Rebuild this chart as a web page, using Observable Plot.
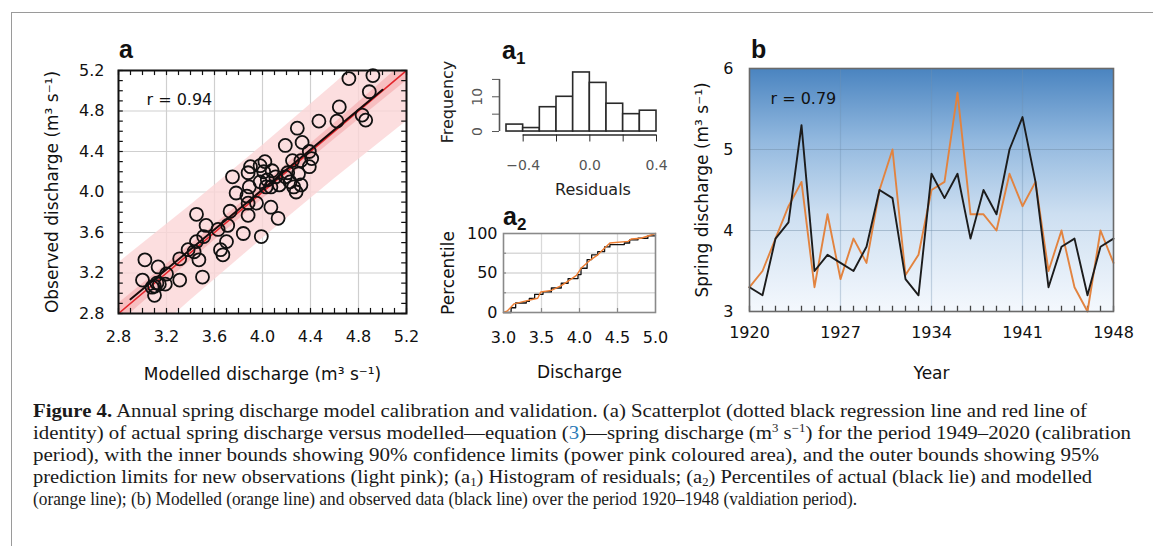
<!DOCTYPE html>
<html><head><meta charset="utf-8">
<script src="https://cdn.jsdelivr.net/npm/d3@7"></script>
<script src="https://cdn.jsdelivr.net/npm/@observablehq/plot@0.6"></script>
<style>
html,body{margin:0;padding:0;background:#fff;}
#fig{position:relative;width:1153px;height:546px;overflow:hidden;}
.panel{position:absolute;}
.panel svg{background:transparent !important;max-width:none !important;overflow:visible;}
#box{position:absolute;left:11px;top:12px;width:1200px;height:600px;border-left:1.5px solid #9a9a9a;border-top:1.5px solid #9a9a9a;}
#caption{position:absolute;left:33px;top:400px;font-family:"Liberation Serif";font-size:19.5px;color:#1a1a1a;}
#caption div{white-space:nowrap;line-height:22px;height:22px;transform-origin:0 50%;width:max-content;}
#caption sup{font-size:12px;vertical-align:7px;line-height:0;}
#caption sub{font-size:12px;vertical-align:-3px;line-height:0;}
#caption .ref{color:#2b7bb9;}
#letters{position:absolute;left:0;top:0;pointer-events:none;}
</style></head><body>
<div id="fig">
  <div id="box"></div>
  <div class="panel" id="pa" style="left:0;top:0;width:420px;height:390px"></div>
  <div class="panel" id="pa1" style="left:420px;top:30px;width:260px;height:175px"></div>
  <div class="panel" id="pa2" style="left:420px;top:205px;width:260px;height:185px"></div>
  <div class="panel" id="pb" style="left:680px;top:30px;width:473px;height:360px"></div>
  <svg id="letters" width="1153" height="546" font-family="Liberation Sans" font-weight="bold" fill="#111">
    <text x="119" y="58" font-size="25">a</text>
    <text x="502" y="59" font-size="25">a<tspan font-size="17" dy="5">1</tspan></text>
    <text x="503" y="225" font-size="25">a<tspan font-size="17" dy="5">2</tspan></text>
    <text x="751" y="58" font-size="25">b</text>
  </svg>
  <div id="caption">
    <div data-w="1054"><b>Figure 4.</b> Annual spring discharge model calibration and validation. (a) Scatterplot (dotted black regression line and red line of</div>
    <div data-w="1098">identity) of actual spring discharge versus modelled—equation (<span class="ref">3</span>)—spring discharge (m<sup>3</sup> s<sup>−1</sup>) for the period 1949–2020 (calibration</div>
    <div data-w="1066">period), with the inner bounds showing 90% confidence limits (power pink coloured area), and the outer bounds showing 95%</div>
    <div data-w="1059">prediction limits for new observations (light pink); (a<sub>1</sub>) Histogram of residuals; (a<sub>2</sub>) Percentiles of actual (black lie) and modelled</div>
    <div data-w="824">(orange line); (b) Modelled (orange line) and observed data (black line) over the period 1920–1948 (valdiation period).</div>
  </div>
</div>
<script>
// ---------- Panel a: scatter (modelled vs observed, calibration 1949–2020) ----------
const modelled = [3.02,3.00,3.13,3.20,3.10,3.10,3.14,3.19,3.08,3.31,
  3.31,3.38,3.50,3.47,3.43,3.45,3.51,3.53,3.45,3.65,
  3.67,3.70,3.63,3.71,3.73,3.84,3.78,3.87,3.88,3.88,
  3.95,3.99,3.75,3.88,3.90,3.98,4.02,4.01,3.98,4.04,
  4.08,4.11,4.07,4.07,4.13,4.14,4.19,4.19,4.23,4.25,
  4.26,4.28,4.32,4.30,4.29,4.33,4.32,4.39,4.39,4.41,
  4.47,4.62,4.64,4.72,4.83,4.86,4.89,4.92,4.21,3.89,
  4.03,3.12];
const observed = [3.33,3.13,3.26,3.19,3.07,2.98,3.09,3.09,3.06,3.13,
  3.34,3.43,3.16,3.33,3.41,3.51,3.56,3.67,3.78,3.43,
  3.38,3.51,3.63,3.67,3.81,3.59,3.99,3.96,3.77,3.89,
  3.89,3.56,4.15,4.19,4.25,4.26,4.30,4.20,4.10,4.12,
  4.21,4.15,4.05,3.85,3.74,4.07,4.15,4.46,4.10,4.31,
  4.05,4.00,4.07,4.18,4.63,4.49,4.31,4.25,4.40,4.33,
  4.70,4.70,4.84,5.12,4.76,4.71,4.99,5.15,4.19,4.05,
  4.05,3.10];
const aTicks = [2.8,3.2,3.6,4.0,4.4,4.8,5.2];
const aMinor = [2.8,2.9,3.0,3.1,3.2,3.3,3.4,3.5,3.6,3.7,3.8,3.9,4.0,4.1,4.2,4.3,4.4,4.5,4.6,4.7,4.8,4.9,5.0,5.1,5.2];
const bandX   = [2.8, 3.4, 4.0, 4.6, 5.2];
const outerLo = [2.30, 2.93, 3.54, 4.13, 4.70];
const outerHi = [3.30, 3.87, 4.46, 5.07, 5.70];
const innerLo = [2.70, 3.32, 3.93, 4.52, 5.10];
const innerHi = [2.90, 3.48, 4.07, 4.68, 5.30];
const identityX = [2.8, 5.2];
const regX = [2.9, 5.0];
const regY = [2.94, 5.01];

// ---------- Panel a1: histogram of residuals ----------
const histEdges  = [-0.5,-0.4,-0.3,-0.2,-0.1,0.0,0.1,0.2,0.3,0.4];
const histCounts = [2,1,7,10,17,14,8,5,6];

// ---------- Panel a2: percentiles ----------
const pObsX = [3.0,3.10,3.16,3.30,3.34,3.41,3.52,3.63,3.76,3.85,3.98,4.02,4.10,4.16,4.24,4.33,4.40,4.59,4.66,4.77,4.90,5.0];
const pObsP = [0,6,12,14,18,23,26,31,37,43,48,56,67,73,77,83,86,88,92,94,97,97];
const pModX = [3.0,3.05,3.14,3.27,3.45,3.49,3.63,3.76,3.87,3.96,4.02,4.15,4.24,4.40,4.64,4.68,4.81,4.97,5.0];
const pModP = [0,2,11,14,18,26,28,34,41,47,56,67,73,88,90,93,94,99,100];

// ---------- Panel b: validation 1920–1948 ----------
const years = [1920,1921,1922,1923,1924,1925,1926,1927,1928,1929,1930,1931,1932,1933,1934,
  1935,1936,1937,1938,1939,1940,1941,1942,1943,1944,1945,1946,1947,1948];
const obsB = [3.3,3.2,3.9,4.1,5.3,3.5,3.7,3.6,3.5,3.8,4.5,4.4,3.4,3.2,4.7,
  4.4,4.7,3.9,4.5,4.2,5.0,5.4,4.6,3.3,3.8,3.9,3.2,3.8,3.9];
const modB = [3.3,3.5,3.9,4.3,4.6,3.3,4.2,3.4,3.9,3.6,4.5,5.0,3.45,3.7,4.5,
  4.6,5.7,4.2,4.2,4.0,4.7,4.3,4.6,3.5,4.0,3.3,3.0,4.0,3.6];
const bTicksX = [1920,1927,1934,1941,1948];
const bTicksY = [3,4,5,6];

const FONT = "DejaVu Sans";
const f1 = d3.format(".1f");

// ===== Panel a =====
const scatter = modelled.map((x,i)=>({x, y: observed[i]}));
const band = bandX.map((x,i)=>({x, oLo: outerLo[i], oHi: outerHi[i], iLo: innerLo[i], iHi: innerHi[i]}));
const plotA = Plot.plot({
  width: 420, height: 390,
  marginLeft: 118, marginRight: 14, marginTop: 70, marginBottom: 77,
  style: {fontFamily: FONT, fontSize: "16px", color: "#111", background: "transparent"},
  x: {domain: [2.8, 5.2]},
  y: {domain: [2.8, 5.2]},
  marks: [
    Plot.gridX(aTicks, {stroke: "#cfcfcf", strokeOpacity: 1, strokeWidth: 1.2}),
    Plot.gridY(aTicks, {stroke: "#cfcfcf", strokeOpacity: 1, strokeWidth: 1.2}),
    Plot.areaY(band, {x: "x", y1: "oLo", y2: "oHi", fill: "#fbd6d7", fillOpacity: 0.8, clip: true}),
    Plot.areaY(band, {x: "x", y1: "iLo", y2: "iHi", fill: "#f5b3b6", fillOpacity: 0.75, clip: true}),
    Plot.line(identityX.map(v=>({v})), {x: "v", y: "v", stroke: "#e3262c", strokeWidth: 1.6, clip: true}),
    Plot.line(regX.map((x,i)=>({x, y: regY[i]})), {x: "x", y: "y", stroke: "#1a0a0a", strokeWidth: 2}),
    Plot.dot(scatter, {x: "x", y: "y", r: 6.5, stroke: "#111", strokeWidth: 1.8, fill: "none"}),
    Plot.ruleX(aMinor, {y1: 2.8, y2: 2.85, stroke: "#111", strokeWidth: 1.2}),
    Plot.ruleX(aMinor, {y1: 5.15, y2: 5.2, stroke: "#111", strokeWidth: 1.2}),
    Plot.ruleY(aMinor, {x1: 2.8, x2: 2.84, stroke: "#111", strokeWidth: 1.2}),
    Plot.ruleY(aMinor, {x1: 5.16, x2: 5.2, stroke: "#111", strokeWidth: 1.2}),
    Plot.frame({stroke: "#111", strokeWidth: 2}),
    Plot.axisX({ticks: aTicks, tickSize: 0, tickPadding: 17, tickFormat: f1, label: null, fontSize: 16}),
    Plot.axisY({ticks: aTicks, tickSize: 0, tickPadding: 14, tickFormat: f1, label: null, fontSize: 16}),
    Plot.text(["Modelled discharge (m³ s⁻¹)"], {frameAnchor: "bottom", dy: 61, lineAnchor: "middle", textAnchor: "middle", fontSize: 17}),
    Plot.text(["Observed discharge (m³ s⁻¹)"], {frameAnchor: "left", dx: -66, rotate: -90, textAnchor: "middle", lineAnchor: "middle", fontSize: 17}),
    Plot.text(["r = 0.94"], {frameAnchor: "top-left", dx: 28, dy: 29, textAnchor: "start", lineAnchor: "middle", fontSize: 16})
  ]
});
document.getElementById("pa").append(plotA);

// ===== Panel a1 =====
const hist = histCounts.map((n,i)=>({lo: histEdges[i], hi: histEdges[i+1], n}));
const resFmt = d => d === 0 ? "0.0" : (d < 0 ? "−" : "") + f1(Math.abs(d));
const plotA1 = Plot.plot({
  width: 260, height: 175,
  marginLeft: 79, marginRight: 24, marginTop: 38.5, marginBottom: 70.5,
  style: {fontFamily: FONT, fontSize: "14px", color: "#333", background: "transparent"},
  x: {domain: [-0.542, 0.4]},
  y: {domain: [-1, 18]},
  marks: [
    Plot.rectY(hist, {x1: "lo", x2: "hi", y: "n", fill: "white", stroke: "#2a2a2a", strokeWidth: 1.6}),
    Plot.ruleY([-1], {x1: -0.4, x2: 0.4, stroke: "#2a2a2a", strokeWidth: 1.6}),
    Plot.ruleX([-0.542], {y1: 0, y2: 15, stroke: "#555", strokeWidth: 1.6}),
    Plot.axisX({ticks: [-0.4,-0.2,0,0.2,0.4], tickSize: 7, tickPadding: 18, label: null, stroke: "#2a2a2a",
      tickFormat: d => [-0.4,0,0.4].includes(d) ? resFmt(d) : "", fontSize: 14, fill: "#555"}),
    Plot.axisY({ticks: [0,5,10,15], tickSize: 7, tickFormat: () => "", label: null, stroke: "#555"}),
    Plot.text([0, 10], {x: -0.542, y: d => d, text: d => String(d), rotate: -90, dx: -22, textAnchor: "middle", lineAnchor: "middle", fontSize: 14, fill: "#555"}),
    Plot.text(["Frequency"], {frameAnchor: "left", dx: -52, rotate: -90, textAnchor: "middle", lineAnchor: "middle", fontSize: 16, fill: "#222"}),
    Plot.text(["Residuals"], {frameAnchor: "bottom", dx: 15, dy: 54.5, lineAnchor: "middle", textAnchor: "middle", fontSize: 16, fill: "#222"})
  ]
});
document.getElementById("pa1").append(plotA1);

// ===== Panel a2 =====
const obsCurve = pObsX.map((x,i)=>({x, p: pObsP[i]}));
const modCurve = pModX.map((x,i)=>({x, p: pModP[i]}));
const plotA2 = Plot.plot({
  width: 260, height: 185,
  marginLeft: 83, marginRight: 25, marginTop: 28, marginBottom: 78,
  style: {fontFamily: FONT, fontSize: "16px", color: "#111", background: "transparent"},
  x: {domain: [3, 5]},
  y: {domain: [0, 100]},
  marks: [
    Plot.gridX([3.5, 4.0, 4.5], {stroke: "#d9d9d9", strokeOpacity: 1, strokeWidth: 1.3}),
    Plot.gridY([25, 50, 75], {stroke: "#d9d9d9", strokeOpacity: 1, strokeWidth: 1.3}),
    Plot.ruleX([3.5, 4.0, 4.5], {y1: 0, y2: 5, stroke: "#888", strokeWidth: 1.2}),
    Plot.ruleY([25, 50, 75], {x1: 3, x2: 3.04, stroke: "#888", strokeWidth: 1.2}),
    Plot.line(obsCurve, {x: "x", y: "p", stroke: "#111", strokeWidth: 1.3, curve: "step-after"}),
    Plot.line(modCurve, {x: "x", y: "p", stroke: "#ee7d31", strokeWidth: 1.4}),
    Plot.frame({stroke: "#8a8a8a", strokeWidth: 1.6}),
    Plot.axisX({ticks: [3.0,3.5,4.0,4.5,5.0], tickSize: 0, tickPadding: 19, tickFormat: f1, label: null, fontSize: 16}),
    Plot.axisY({ticks: [0, 50, 100], tickSize: 0, tickPadding: 6, tickFormat: d => String(d), label: null, fontSize: 16}),
    Plot.text(["Discharge"], {frameAnchor: "bottom", dy: 60, lineAnchor: "middle", textAnchor: "middle", fontSize: 17}),
    Plot.text(["Percentile"], {frameAnchor: "left", dx: -55, rotate: -90, textAnchor: "middle", lineAnchor: "middle", fontSize: 17})
  ]
});
document.getElementById("pa2").append(plotA2);

// ===== Panel b =====
const obsLine = years.map((yr,i)=>({yr, v: obsB[i]}));
const modLine = years.map((yr,i)=>({yr, v: modB[i]}));
const plotB = Plot.plot({
  width: 473, height: 360,
  marginLeft: 69, marginRight: 40, marginTop: 38, marginBottom: 79,
  style: {fontFamily: FONT, fontSize: "16px", color: "#111", background: "transparent"},
  x: {domain: [1920, 1948]},
  y: {domain: [3, 6]},
  marks: [
    Plot.frame({fill: "url(#bgGradB)"}),
    Plot.gridX([1927, 1934, 1941], {stroke: "#6f8fb0", strokeOpacity: 0.35, strokeWidth: 1.2}),
    Plot.gridY([4, 5], {stroke: "#6f8aa5", strokeOpacity: 0.45, strokeWidth: 1.2}),
    Plot.ruleX(years, {y1: 3, y2: 3.065, stroke: "#444", strokeWidth: 1.3}),
    Plot.line(modLine, {x: "yr", y: "v", stroke: "#e2833f", strokeWidth: 1.9}),
    Plot.line(obsLine, {x: "yr", y: "v", stroke: "#1c1c1c", strokeWidth: 1.9}),
    Plot.frame({stroke: "#6a6a6a", strokeWidth: 1.6}),
    Plot.axisX({ticks: bTicksX, tickSize: 0, tickPadding: 15, tickFormat: d => String(d), label: null, fontSize: 16}),
    Plot.axisY({ticks: bTicksY, tickSize: 0, tickPadding: 16, tickFormat: d => String(d), label: null, fontSize: 16}),
    Plot.text(["Year"], {frameAnchor: "bottom", dy: 62, lineAnchor: "middle", textAnchor: "middle", fontSize: 17}),
    Plot.text(["Spring discharge (m³ s⁻¹)"], {frameAnchor: "left", dx: -47, rotate: -90, textAnchor: "middle", lineAnchor: "middle", fontSize: 17}),
    Plot.text(["r = 0.79"], {frameAnchor: "top-left", dx: 21, dy: 30, textAnchor: "start", lineAnchor: "middle", fontSize: 16})
  ]
});
{
  const svg = d3.select(plotB.tagName.toLowerCase() === "svg" ? plotB : plotB.querySelector("svg"));
  const g = svg.insert("defs", ":first-child").append("linearGradient")
    .attr("id", "bgGradB").attr("x1", 0).attr("y1", 0).attr("x2", 0).attr("y2", 1);
  [["0%", "#4a84c0"], ["30%", "#93b9df"], ["60%", "#cddff1"], ["100%", "#f4f8fd"]]
    .forEach(([o, c]) => g.append("stop").attr("offset", o).attr("stop-color", c));
}
document.getElementById("pb").append(plotB);

// ===== caption line fitting =====
document.querySelectorAll("#caption div").forEach(el => {
  const target = +el.dataset.w;
  const w = el.getBoundingClientRect().width;
  if (w > 0) el.style.transform = `scaleX(${target / w})`;
});
</script>
</body></html>
